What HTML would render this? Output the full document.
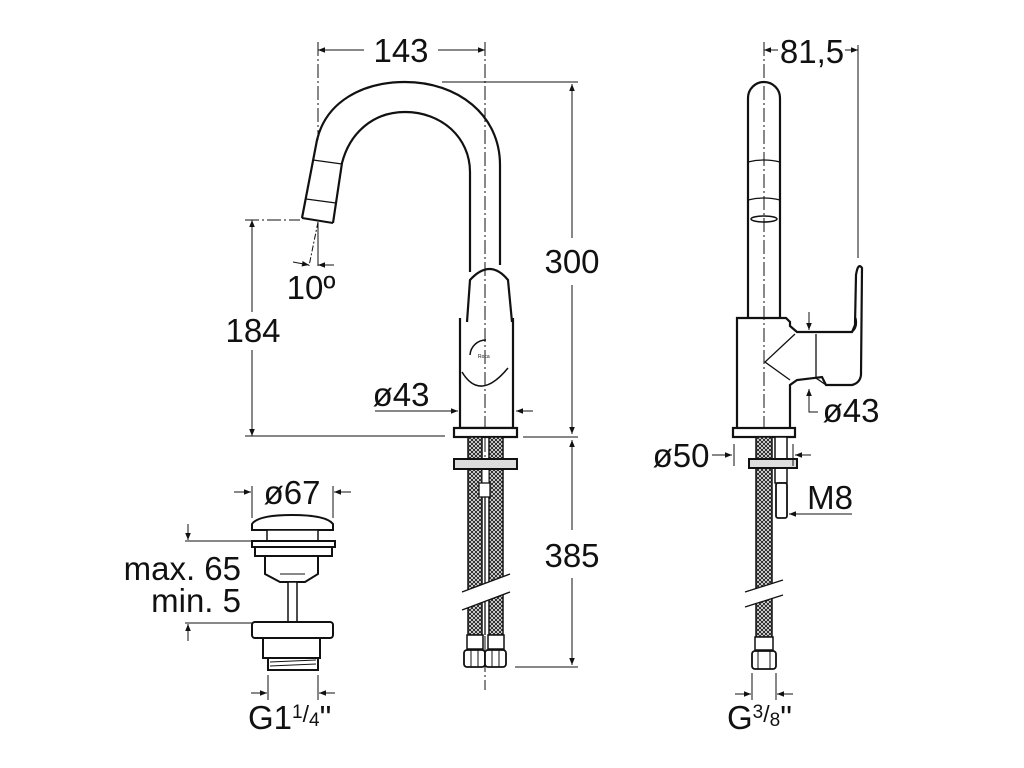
<!DOCTYPE html>
<html><head><meta charset="utf-8"><style>
html,body{margin:0;padding:0;background:#fff;}
svg{display:block;}
text{font-family:"Liberation Sans",Arial,sans-serif;fill:#111;}
</style></head><body>
<svg width="1024" height="768" viewBox="0 0 1024 768" xmlns="http://www.w3.org/2000/svg">
<defs>
<pattern id="mesh" width="4" height="4" patternUnits="userSpaceOnUse">
<rect width="4" height="4" fill="#fff"/>
<path d="M0,0 L4,4 M4,0 L0,4" stroke="#222" stroke-width="1"/>
</pattern>
<marker id="ar" viewBox="0 0 10 10" refX="10" refY="5" markerWidth="9" markerHeight="7" orient="auto-start-reverse" markerUnits="userSpaceOnUse">
<path d="M0,1 L10,5 L0,9 z" fill="#111"/>
</marker>
</defs>

<g fill="none" stroke="#111" stroke-width="1">
<line x1="485" y1="42" x2="485" y2="690" stroke-dasharray="14,3,2,3"/>
<line x1="318" y1="42" x2="318" y2="140" stroke-dasharray="14,3,2,3"/>
<line x1="318" y1="50" x2="364" y2="50" marker-start="url(#ar)"/>
<line x1="438" y1="50" x2="485" y2="50" marker-end="url(#ar)"/>
<path d="M302,218 L317,140 C326,102 362,82 405,82 C458,82 500,115 500,165 L500,265" stroke-width="2.2"/>
<path d="M333,223 L342,163 C350,132 374,112 405,112 C442,112 470,138 470,172 L470,272" stroke-width="2.2"/>
<path d="M302,218 L333,223" stroke-width="2"/>
<path d="M313,160 L342,164 M306,199 L336,203" stroke-width="1.3"/>
<path d="M467,322 L470,280 Q490,258 508,280 L512,322" stroke-width="2.2"/>
<path d="M460,318 L460,428 L513,428 L513,318" stroke-width="2.2"/>
<path d="M462,372 Q480,402 508,368" stroke-width="1.5"/>
<path d="M470,355 A16,16 0 0 1 486,340" stroke-width="1.5"/>
<text x="478" y="358" font-size="5" stroke="none">Roca</text>
<rect x="454" y="428" width="63" height="9" fill="#fff" stroke-width="2.2"/>
<rect x="468" y="437" width="14" height="198" fill="url(#mesh)" stroke-width="1.5"/>
<rect x="489" y="437" width="14" height="198" fill="url(#mesh)" stroke-width="1.5"/>
<rect x="482" y="469" width="7" height="20" fill="#fff"/>
<rect x="479" y="483" width="11" height="14" fill="#fff" stroke-width="1.3"/>
<line x1="485" y1="497" x2="485" y2="635" stroke-width="1.3"/>
<rect x="454" y="459" width="63" height="10" fill="#ddd" stroke-width="2"/>
<path d="M462,592 L510,574 L510,592 L462,610 Z" fill="#fff" stroke="none"/>
<line x1="462" y1="592" x2="510" y2="574" stroke-width="1.3"/>
<line x1="462" y1="610" x2="510" y2="592" stroke-width="1.3"/>
<rect x="467" y="635" width="16" height="14" fill="#fff" stroke-width="1.5"/>
<rect x="488" y="635" width="16" height="14" fill="#fff" stroke-width="1.5"/>
<rect x="464" y="650" width="21" height="17" rx="3" fill="#fff" stroke-width="1.8"/>
<rect x="485" y="650" width="21" height="17" rx="3" fill="#fff" stroke-width="1.8"/>
<path d="M471,650v17 M478,650v17 M492,650v17 M499,650v17" stroke-width="1"/>
<line x1="245" y1="220" x2="300" y2="220" stroke-dasharray="14,3,2,3"/>
<line x1="252" y1="220" x2="252" y2="312" marker-start="url(#ar)"/>
<line x1="252" y1="350" x2="252" y2="436" marker-end="url(#ar)"/>
<line x1="245" y1="436" x2="445" y2="436"/>
<line x1="318" y1="222" x2="318" y2="266"/>
<line x1="318" y1="222" x2="309" y2="266" stroke-dasharray="6,2,2,2"/>
<line x1="293" y1="262" x2="309" y2="265" marker-end="url(#ar)"/>
<line x1="334" y1="265" x2="318" y2="265" marker-end="url(#ar)"/>
<line x1="442" y1="82" x2="578" y2="82"/>
<line x1="572" y1="84" x2="572" y2="238" marker-start="url(#ar)"/>
<line x1="572" y1="285" x2="572" y2="434" marker-end="url(#ar)"/>
<line x1="523" y1="437" x2="578" y2="437"/>
<line x1="572" y1="440" x2="572" y2="530" marker-start="url(#ar)"/>
<line x1="572" y1="578" x2="572" y2="665" marker-end="url(#ar)"/>
<line x1="515" y1="667" x2="578" y2="667"/>
<line x1="375" y1="411" x2="458" y2="411" marker-end="url(#ar)"/>
<line x1="533" y1="411" x2="516" y2="411" marker-end="url(#ar)"/>

<line x1="764" y1="42" x2="764" y2="660" stroke-dasharray="14,3,2,3"/>
<path d="M748,317 L748,98 A16,16 0 0 1 780,98 L780,317" stroke-width="2.2"/>
<path d="M748,162 Q764,158 780,162 M748,200 Q764,196 780,200" stroke-width="1.2"/>
<ellipse cx="764" cy="219" rx="13" ry="3" stroke-width="1.5"/>
<path d="M737,428 L737,318 L786,318 L790,322 L790,326 L797,332 L852,332 L855,325 L856,275 Q858,262 862,268 L861,375 Q860,383 852,385 L826,385 L822,377 L797,380 L790,385 L790,428" stroke-width="2.2"/>
<path d="M795,334 L765,362 L790,380" stroke-width="1.3"/>
<path d="M816,334 L816,378 L826,385" stroke-width="1.3"/>
<path d="M852,332 Q858,328 856,318" stroke-width="1.2"/>
<rect x="733" y="428" width="62" height="9" fill="#fff" stroke-width="2.2"/>
<rect x="756" y="437" width="16" height="200" fill="url(#mesh)" stroke-width="1.5"/>
<rect x="775" y="437" width="12" height="46" fill="#fff" stroke-width="1.5"/>
<rect x="776" y="483" width="11" height="35" rx="2" fill="#fff" stroke-width="1.8"/>
<rect x="749" y="459" width="48" height="9" fill="#ddd" stroke-width="2"/>
<path d="M745,592 L783,580 L783,595 L745,607 Z" fill="#fff" stroke="none"/>
<line x1="745" y1="592" x2="783" y2="580" stroke-width="1.3"/>
<line x1="745" y1="607" x2="783" y2="595" stroke-width="1.3"/>
<rect x="755" y="637" width="18" height="13" fill="#fff" stroke-width="1.5"/>
<rect x="752" y="651" width="24" height="18" rx="3" fill="#fff" stroke-width="1.8"/>
<path d="M758,651v18 M770,651v18" stroke-width="1"/>
<line x1="764" y1="50" x2="778" y2="50" marker-start="url(#ar)"/>
<line x1="845" y1="50" x2="858" y2="50" marker-end="url(#ar)"/>
<line x1="858" y1="45" x2="858" y2="258"/>
<line x1="809" y1="312" x2="809" y2="330" marker-end="url(#ar)"/>
<path d="M818,412 L809,412 L809,389" marker-end="url(#ar)"/>
<line x1="712" y1="455" x2="732" y2="455" marker-end="url(#ar)"/>
<line x1="734" y1="444" x2="734" y2="466"/>
<line x1="793" y1="444" x2="793" y2="466"/>
<line x1="811" y1="455" x2="795" y2="455" marker-end="url(#ar)"/>
<line x1="852" y1="514" x2="789" y2="514" marker-end="url(#ar)"/>
<line x1="752" y1="673" x2="752" y2="700"/>
<line x1="776" y1="673" x2="776" y2="700"/>
<line x1="735" y1="694" x2="751" y2="694" marker-end="url(#ar)"/>
<line x1="793" y1="694" x2="777" y2="694" marker-end="url(#ar)"/>

<path d="M252,530 L252,524 Q258,515 292,515 Q326,515 333,524 L333,530 Z" fill="#fff" stroke-width="2"/>
<rect x="267" y="530" width="51" height="11" fill="#fff" stroke-width="1.5"/>
<rect x="252" y="541" width="83" height="6" fill="#fff" stroke-width="2"/>
<rect x="255" y="547" width="77" height="9" fill="#fff" stroke-width="2"/>
<path d="M265,556 L265,574 L280,582 L305,582 L318,574 L318,556" stroke-width="2"/>
<path d="M280,574 L305,574" stroke-width="1"/>
<rect x="288" y="582" width="9" height="40" fill="#fff" stroke-width="1.5"/>
<rect x="252" y="622" width="81" height="16" rx="3" fill="#fff" stroke-width="2"/>
<path d="M263,638 L263,658 L320,658 L320,638" stroke-width="2"/>
<rect x="268" y="658" width="50" height="12" fill="#fff" stroke-width="2"/>
<path d="M270,662 L316,660 M270,666 L316,664" stroke-width="1"/>
<line x1="252" y1="486" x2="252" y2="518"/>
<line x1="333" y1="486" x2="333" y2="518"/>
<line x1="234" y1="492" x2="251" y2="492" marker-end="url(#ar)"/>
<line x1="351" y1="492" x2="334" y2="492" marker-end="url(#ar)"/>
<line x1="185" y1="541" x2="252" y2="541"/>
<line x1="188" y1="524" x2="188" y2="540" marker-end="url(#ar)"/>
<line x1="185" y1="623" x2="252" y2="623"/>
<line x1="188" y1="641" x2="188" y2="624" marker-end="url(#ar)"/>
<line x1="268" y1="675" x2="268" y2="700"/>
<line x1="318" y1="675" x2="318" y2="700"/>
<line x1="251" y1="693" x2="267" y2="693" marker-end="url(#ar)"/>
<line x1="335" y1="693" x2="319" y2="693" marker-end="url(#ar)"/>
</g>

<g stroke="none" font-size="33">
<text x="401" y="62" text-anchor="middle">143</text>
<text x="311" y="299" text-anchor="middle">10º</text>
<text x="253" y="342" text-anchor="middle">184</text>
<text x="572" y="273" text-anchor="middle">300</text>
<text x="572" y="567" text-anchor="middle">385</text>
<text x="401" y="406" text-anchor="middle">ø43</text>
<text x="812" y="63" text-anchor="middle">81,5</text>
<text x="851" y="422" text-anchor="middle">ø43</text>
<text x="681" y="467" text-anchor="middle">ø50</text>
<text x="830" y="509" text-anchor="middle">M8</text>
<text x="292" y="504" text-anchor="middle">ø67</text>
<text x="241" y="580" text-anchor="end">max. 65</text>
<text x="241" y="612" text-anchor="end">min. 5</text>
<text x="248" y="729">G1<tspan font-size="19" dy="-11">1</tspan><tspan font-size="23" dy="4">/</tspan><tspan font-size="19" dy="4">4</tspan><tspan dy="3">"</tspan></text>
<text x="727" y="729">G<tspan font-size="19" dy="-11">3</tspan><tspan font-size="23" dy="4">/</tspan><tspan font-size="19" dy="4">8</tspan><tspan dy="3">"</tspan></text>
</g>
</svg>
</body></html>
